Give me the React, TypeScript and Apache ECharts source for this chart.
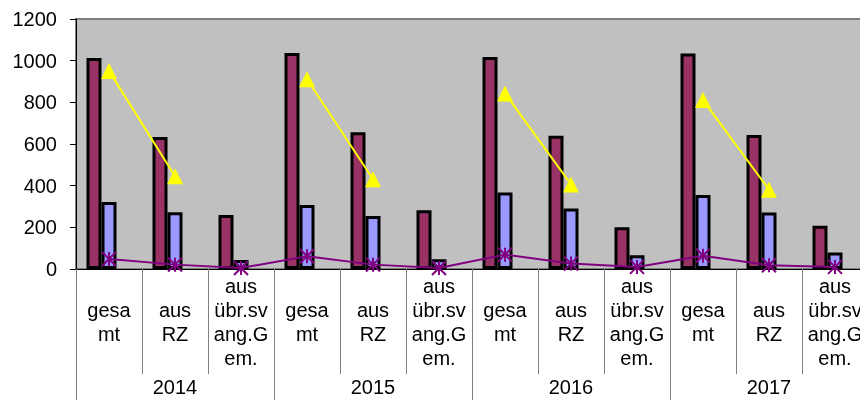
import React, { useEffect, useRef } from "react";
import * as echarts from "echarts";

const years = ["2014", "2015", "2016", "2017"];
const subLabels = ["gesa\nmt", "aus\nRZ", "aus\nübr.sv\nang.G\nem."];
const maroonValues = [1013, 634, 259, 1037, 656, 282, 1018, 640, 200, 1034, 643, 208];
const blueValues = [322, 272, 43, 307, 254, 47, 367, 291, 66, 355, 271, 79];
const yellowValues: (number | null)[] = [951, 445, null, 911, 431, null, 843, 406, null, 811, 381, null];
const purpleValues = [48, 21, 5, 61, 21, 5, 69, 26, 10, 64, 18, 10];
const yTicks = { min: 0, max: 1200, interval: 200 };

const categories: string[] = [];
years.forEach(() => subLabels.forEach((s) => categories.push(s)));

const FONT = "'Liberation Sans', Arial, sans-serif";

export default function App() {
  const ref = useRef<HTMLDivElement>(null);
  useEffect(() => {
    if (!ref.current) return;
    const chart = echarts.init(ref.current, undefined, { renderer: "svg" });
    chart.setOption({
      animation: false,
      textStyle: { fontFamily: FONT },
      grid: {
        left: 76,
        right: 0,
        top: 19,
        bottom: 131,
        show: true,
        backgroundColor: "#c0c0c0",
        borderColor: "#808080",
        borderWidth: 2,
      },
      yAxis: {
        type: "value",
        min: yTicks.min,
        max: yTicks.max,
        interval: yTicks.interval,
        axisLine: { show: true, lineStyle: { color: "#000", width: 1 } },
        axisTick: { show: true, length: 6, lineStyle: { color: "#000" } },
        splitLine: { show: false },
        axisLabel: {
          color: "#000",
          fontSize: 20,
          margin: 19,
          fontFamily: FONT,
          formatter: (v: number) => String(v),
        },
      },
      xAxis: [
        {
          type: "category",
          data: categories,
          position: "bottom",
          axisLine: { show: true, onZero: false, lineStyle: { color: "#000", width: 1 } },
          axisTick: { show: true, length: 105, lineStyle: { color: "#808080", width: 1 } },
          axisLabel: {
            interval: 0,
            color: "#000",
            fontSize: 20,
            lineHeight: 24,
            margin: 53,
            verticalAlign: "middle",
            fontFamily: FONT,
          },
          splitLine: { show: false },
        },
        {
          type: "category",
          data: years,
          position: "bottom",
          axisLine: { show: false },
          axisTick: { show: true, length: 132, lineStyle: { color: "#808080", width: 1 } },
          axisLabel: {
            interval: 0,
            color: "#000",
            fontSize: 20,
            margin: 118,
            verticalAlign: "middle",
            fontFamily: FONT,
          },
          splitLine: { show: false },
        },
      ],
      series: [
        {
          type: "bar",
          data: maroonValues,
          barWidth: 15,
          barGap: "0%",
          itemStyle: { color: "#993366", borderColor: "#000", borderWidth: 3 },
        },
        {
          type: "bar",
          data: blueValues,
          barWidth: 15,
          barGap: "0%",
          itemStyle: { color: "#9999ff", borderColor: "#000", borderWidth: 3 },
        },
        {
          type: "bar",
          data: categories.map(() => null),
          barWidth: 15,
          barGap: "0%",
        },
        {
          type: "line",
          data: yellowValues,
          connectNulls: false,
          symbol: "triangle",
          symbolSize: 16,
          lineStyle: { color: "#ffff00", width: 2 },
          itemStyle: { color: "#ffff00", borderWidth: 0 },
        },
        {
          type: "line",
          data: purpleValues,
          symbol: "path://M0,0L10,10M10,0L0,10M5,0L5,10",
          symbolSize: 14,
          lineStyle: { color: "#800080", width: 2 },
          itemStyle: { color: "#800080", borderColor: "#800080", borderWidth: 2 },
        },
      ],
    });
    return () => chart.dispose();
  }, []);
  return (
    <div
      ref={ref}
      style={{ position: "fixed", left: 0, top: 0, width: 868, height: 400 }}
    />
  );
}
